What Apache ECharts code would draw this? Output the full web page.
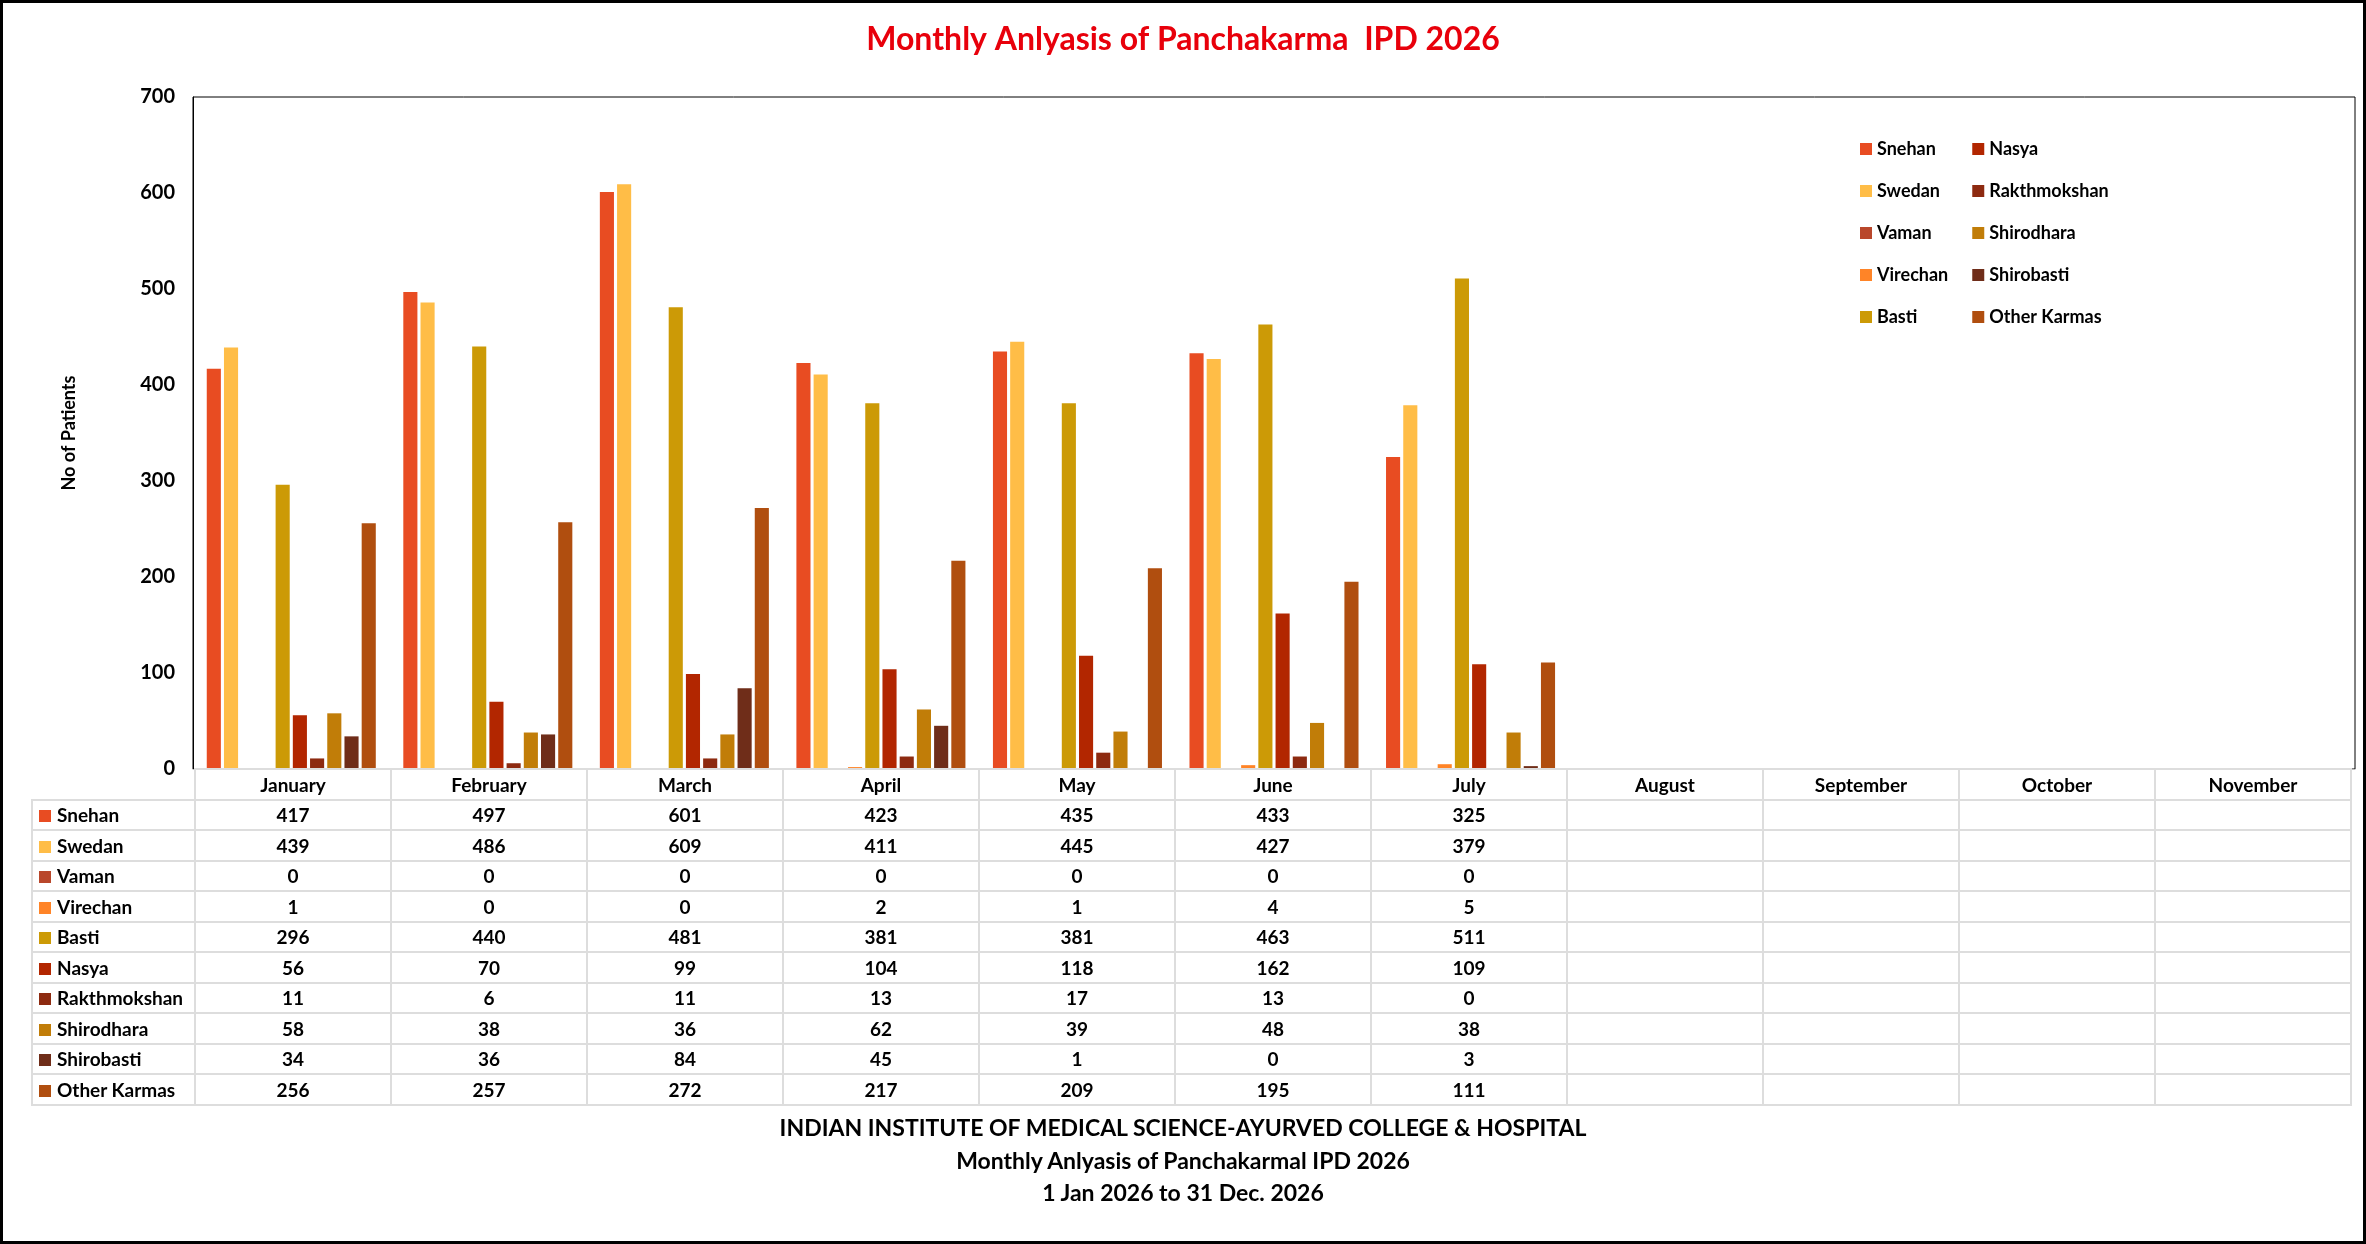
<!DOCTYPE html>
<html>
<head>
<meta charset="utf-8">
<script src="https://cdn.jsdelivr.net/npm/echarts@6/dist/echarts.min.js"></script>
<style>
html, body { margin: 0; padding: 0; background: #fff; }
#wrap { position: relative; width: 2366px; height: 1244px; box-sizing: border-box; border: 3px solid #000; }
#chart { position: absolute; left: 0; top: 0; width: 2360px; height: 1238px; }
#tbl { position: absolute; left: 28px; top: 765px; border-collapse: collapse; font-family: Lato, "Open Sans", sans-serif; font-weight: bold; font-size: 19px; color: #000; }
#tbl td { border: 2px solid #ddd; height: 28.5px; padding: 0; text-align: center; }
#tbl td.name { text-align: left; padding-left: 6px; width: 155px; white-space: nowrap; }
#tbl td.name span { display: inline-block; width: 12px; height: 12px; margin-right: 6px; }
#tbl td.m { width: 194px; }
#tbl tr.head td.blank { border-left: none; border-top: none; }
#foot { position: absolute; left: 0; width: 2360px; top: 1108px; text-align: center; font-family: Lato, "Open Sans", sans-serif; font-weight: bold; font-size: 23px; line-height: 32.5px; }
</style>
</head>
<body>
<div id="wrap">
<div id="chart"></div>
<table id="tbl"></table>
<div id="foot">INDIAN INSTITUTE OF MEDICAL SCIENCE-AYURVED COLLEGE &amp; HOSPITAL<br>Monthly Anlyasis of Panchakarmal IPD 2026<br>1 Jan 2026 to 31 Dec. 2026</div>
</div>
<script>
// months shown in the chart
let months = ["January", "February", "March", "April", "May", "June", "July", "August", "September", "October", "November"];

let snehan = [417, 497, 601, 423, 435, 433, 325];
let swedan = [439, 486, 609, 411, 445, 427, 379];
let vaman = [0, 0, 0, 0, 0, 0, 0];
let virechan = [1, 0, 0, 2, 1, 4, 5];
let basti = [296, 440, 481, 381, 381, 463, 511];
let nasya = [56, 70, 99, 104, 118, 162, 109];
let rakthmokshan = [11, 6, 11, 13, 17, 13, 0];
let shirodhara = [58, 38, 36, 62, 39, 48, 38];
let shirobasti = [34, 36, 84, 45, 1, 0, 3];
let otherKarmas = [256, 257, 272, 217, 209, 195, 111];

let seriesNames = ["Snehan", "Swedan", "Vaman", "Virechan", "Basti", "Nasya", "Rakthmokshan", "Shirodhara", "Shirobasti", "Other Karmas"];
let seriesData = [snehan, swedan, vaman, virechan, basti, nasya, rakthmokshan, shirodhara, shirobasti, otherKarmas];
let colors = ["#E84C22", "#FFBD47", "#B9472B", "#FF8427", "#CC9A06", "#B22600", "#8D2A10", "#C17D08", "#6F2D19", "#B04E0F"];

let font = 'Lato, "Open Sans", sans-serif';

// data table below chart
let html = "<tr class='head'><td class='name blank'></td>";
for (let i = 0; i < months.length; i++) {
    html += "<td class='m'>" + months[i] + "</td>";
}
html += "</tr>";
for (let s = 0; s < seriesNames.length; s++) {
    html += "<tr><td class='name'><span style='background:" + colors[s] + "'></span>" + seriesNames[s] + "</td>";
    for (let i = 0; i < months.length; i++) {
        let v = seriesData[s][i];
        html += "<td>" + (v === undefined ? "" : v) + "</td>";
    }
    html += "</tr>";
}
document.getElementById("tbl").innerHTML = html;

var myChart = echarts.init(document.getElementById("chart"));
var series = [];
for (let s = 0; s < seriesNames.length; s++) {
    series.push({
        name: seriesNames[s],
        type: 'bar',
        data: seriesData[s],
        itemStyle: {color: colors[s]},
        barGap: '22%',
        barCategoryGap: '14%'
    });
}
var option = {
    animation: false,
    title: {
        text: 'Monthly Anlyasis of Panchakarma  IPD 2026',
        left: 'center',
        top: 16,
        textStyle: {color: '#E8000B', fontSize: 32, fontWeight: 'bold', fontFamily: font}
    },
    legend: {
        orient: 'vertical',
        left: 1852,
        top: 132,
        width: 420,
        height: 200,
        itemWidth: 12,
        itemHeight: 12,
        itemGap: 24,
        icon: 'rect',
        data: seriesNames,
        formatter: function (n) { return n; },
        textStyle: {fontSize: 18, fontWeight: 'bold', fontFamily: font, color: '#000', width: 210},
    },
    grid: {left: 190, right: 8, top: 94, height: 672, show: true, borderColor: '#000', borderWidth: 1},
    xAxis: {
        type: 'category',
        data: months,
        axisLabel: {show: false},
        axisTick: {show: false},
        axisLine: {lineStyle: {color: '#bbb'}}
    },
    yAxis: {
        type: 'value',
        min: 0,
        max: 700,
        interval: 100,
        name: 'No of Patients',
        nameLocation: 'middle',
        nameGap: 115,
        nameTextStyle: {fontSize: 18, fontWeight: 'bold', fontFamily: font, color: '#000'},
        axisLine: {show: true, lineStyle: {color: '#000'}},
        splitLine: {show: false},
        axisLabel: {fontSize: 20, fontWeight: 'bold', fontFamily: font, color: '#000', margin: 18}
    },
    series: series
};
myChart.setOption(option);
</script>
</body>
</html>
